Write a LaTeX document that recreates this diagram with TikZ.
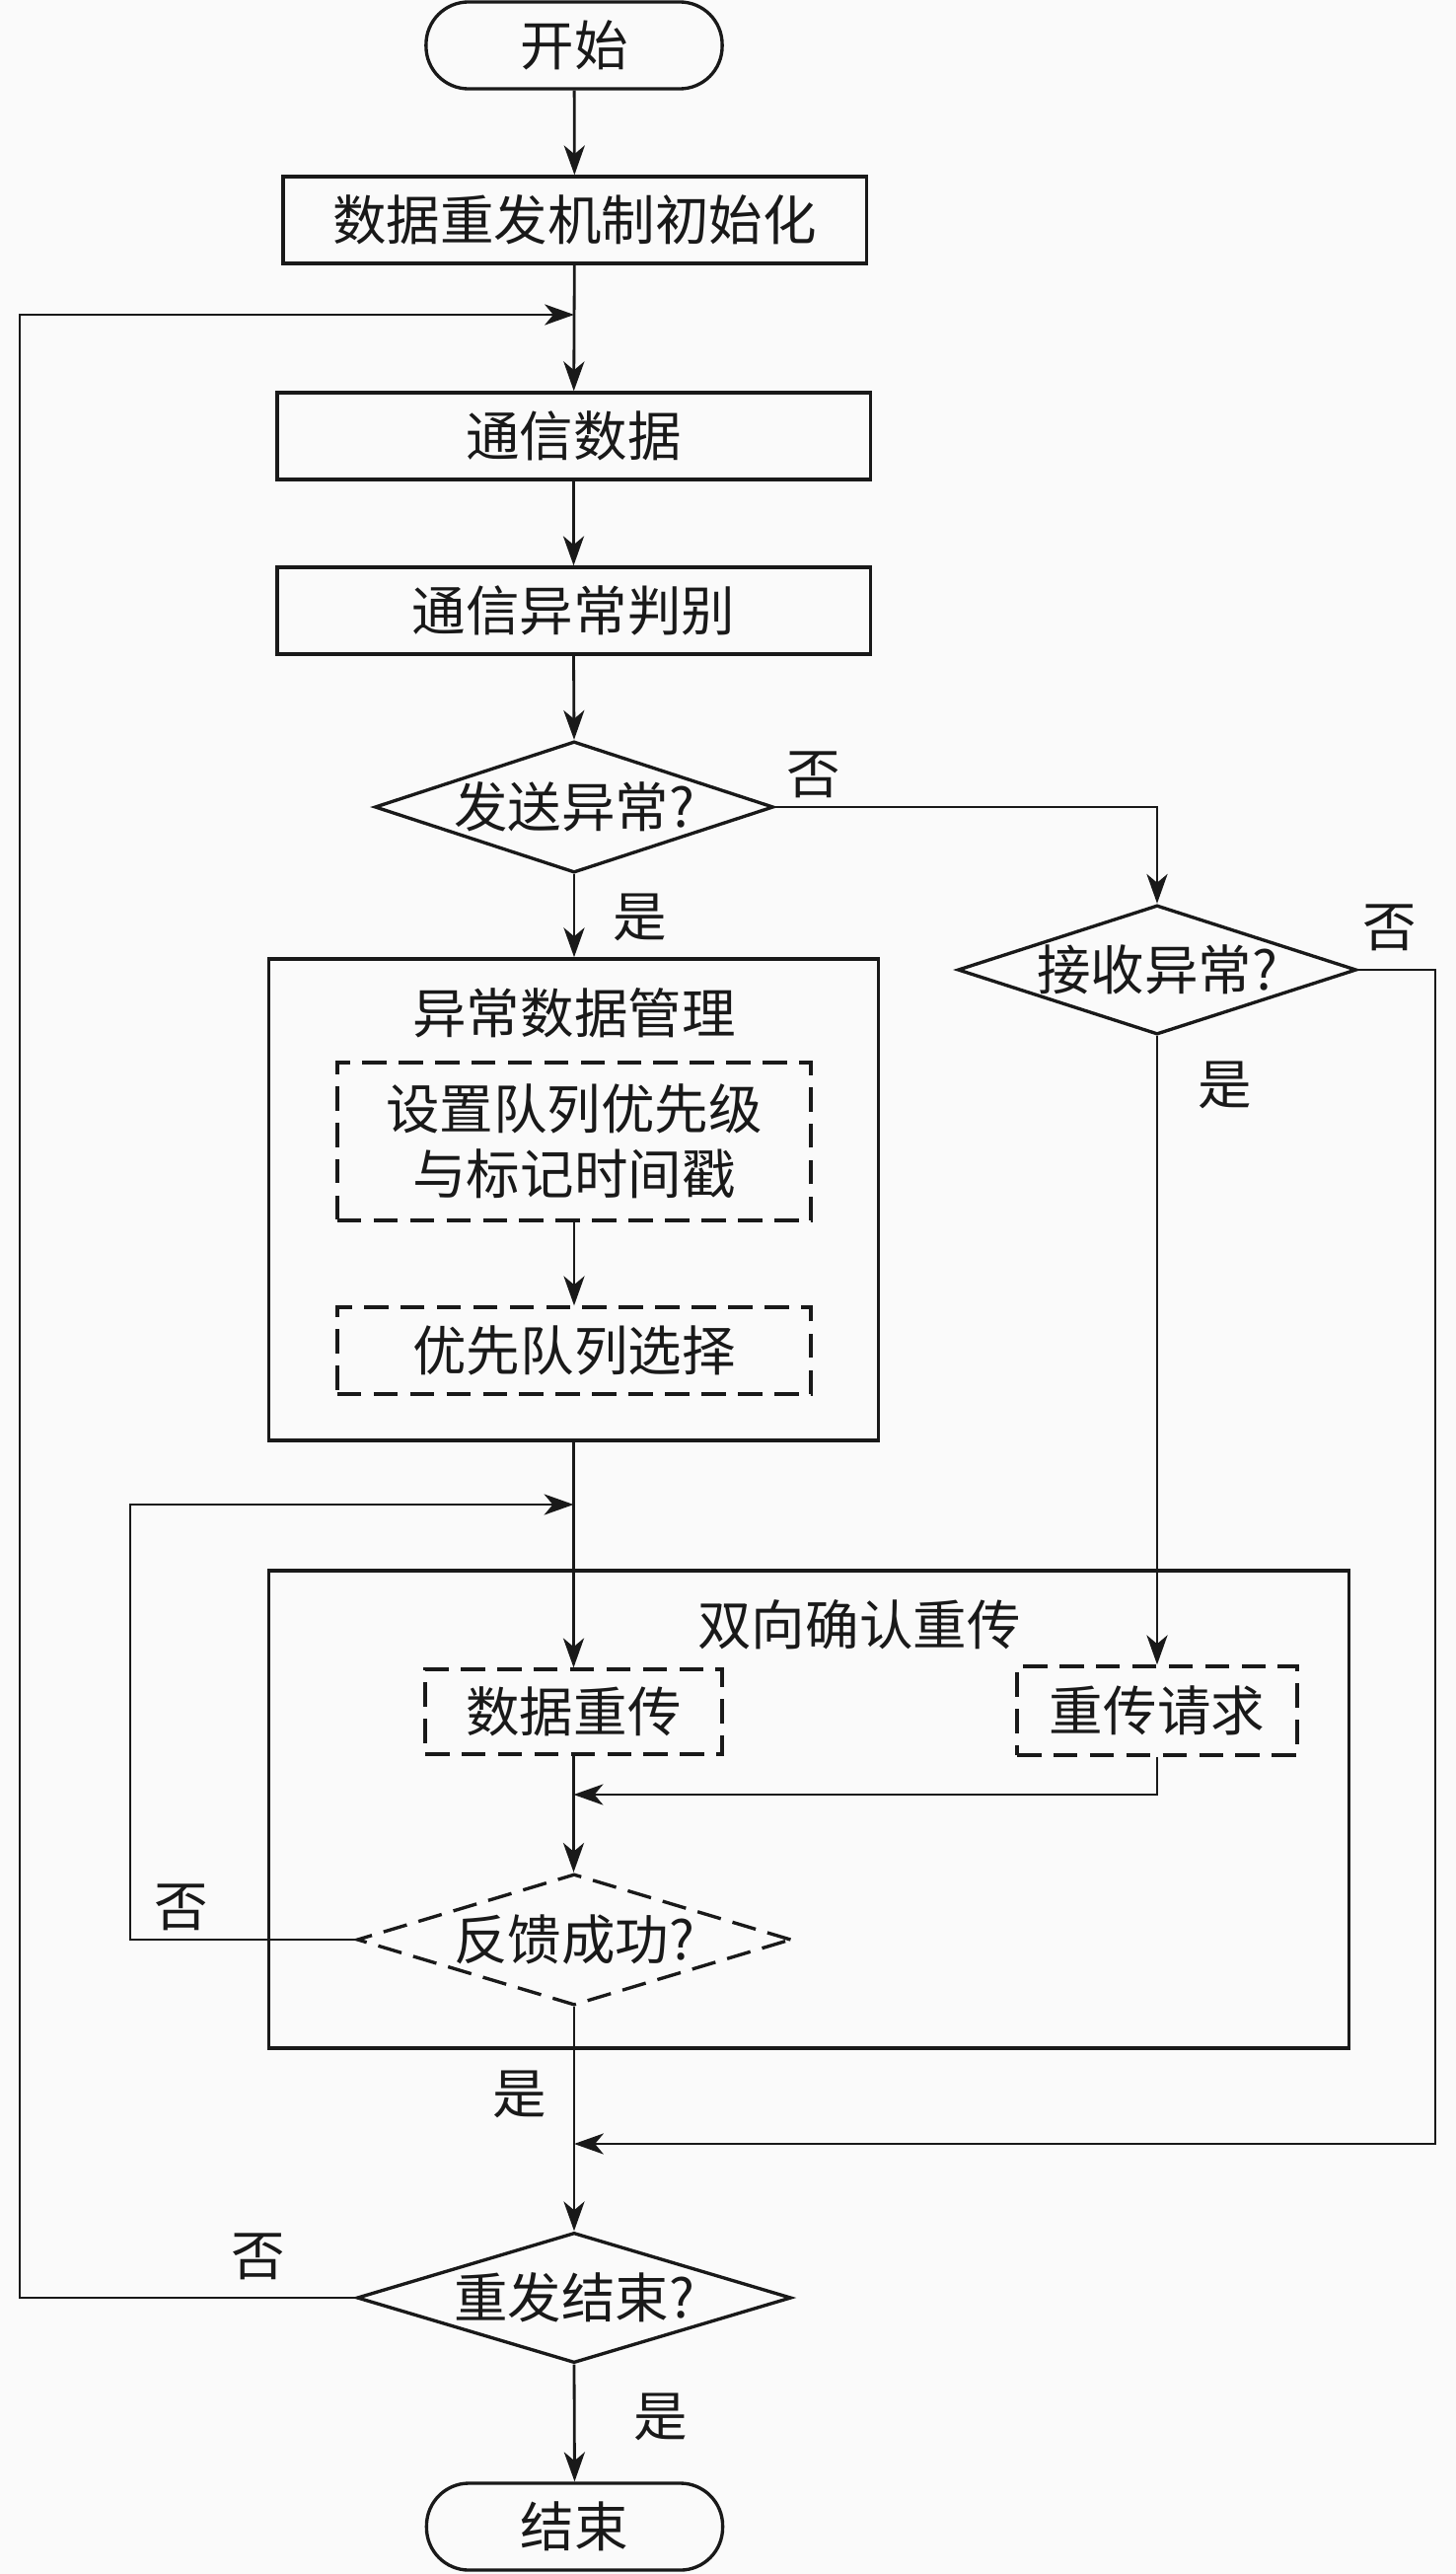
\documentclass[tikz,border=0pt]{standalone}
\usepackage{fontspec}
\setmainfont{Noto Sans CJK SC}
\usetikzlibrary{shapes.geometric,arrows.meta}
\definecolor{bgc}{RGB}{250,250,250}
\definecolor{ink}{RGB}{25,25,25}
\begin{document}
\begin{tikzpicture}[x=0.01cm,y=-0.01cm,
  font=\fontsize{15.5pt}{18.8pt}\selectfont,
  every node/.style={text=ink},
  box/.style={draw=ink,line width=0.95pt,inner sep=0pt,minimum width=#1,minimum height=0.88cm},
  dbox/.style={draw=ink,line width=0.95pt,dash pattern=on 7pt off 3.5pt,inner sep=0pt},
  term/.style={draw=ink,line width=0.95pt,rounded corners=0.43cm,inner sep=0pt,minimum width=3.0cm,minimum height=0.88cm},
  dia/.style={draw=ink,diamond,inner sep=0pt,line width=0.95pt},
  arr/.style={draw=ink,line width=0.8pt,-{Stealth[length=8.5pt,width=6pt,inset=2.5pt]}},
  lab/.style={inner sep=0pt}
]
\fill[bgc] (0,0) rectangle (1476,2609);
\useasboundingbox (0,0) rectangle (1476,2609);

% main column
\node[term] (start) at (582,46) {开始};
\node[box=5.91cm] (init) at (582.5,223) {数据重发机制初始化};
\node[box=6.01cm] (comm) at (581.5,442) {通信数据};
\node[box=6.01cm] (judge) at (581.5,619) {通信异常判别};
\node[dia,minimum width=4.04cm,minimum height=1.33cm] (d1) at (582,818) {};
\node (d1t) at (d1) {发送异常?};
\node[dia,minimum width=4.04cm,minimum height=1.31cm] (d2) at (1173,983) {};
\node (d2t) at (d2) {接收异常?};

% abnormal data management
\node[draw=ink,line width=0.95pt,minimum width=6.17cm,minimum height=4.88cm] (mgmt) at (581.5,1216) {};
\node (mgmtT) at (582,1027) {异常数据管理};
\node[dbox,minimum width=4.8cm,minimum height=1.6cm,align=center] (sub1) at (582,1157) {设置队列优先级\\与标记时间戳};
\node[dbox,minimum width=4.8cm,minimum height=0.88cm] (sub2) at (582,1369) {优先队列选择};

% bidirectional confirmation
\node[draw=ink,line width=0.95pt,minimum width=10.94cm,minimum height=4.84cm] (ack) at (820,1834) {};
\node (ackT) at (871,1647) {双向确认重传};
\node[dbox,minimum width=3.01cm,minimum height=0.86cm] (retx) at (581.5,1735) {数据重传};
\node[dbox,minimum width=2.84cm,minimum height=0.90cm] (req) at (1173,1734) {重传请求};
\node[dia,dash pattern=on 7pt off 3.5pt,minimum width=4.40cm,minimum height=1.33cm] (d3) at (582,1966) {};
\node (d3t) at (d3) {反馈成功?};

\node[dia,minimum width=4.40cm,minimum height=1.32cm] (d4) at (582,2329) {};
\node (d4t) at (d4) {重发结束?};
\node[term] (end) at (582.5,2561) {结束};

% coordinates
\coordinate (j1) at (582,319);
\coordinate (ll) at (20,319);
\coordinate (lp3) at (132,1525);
\coordinate (j3) at (581.5,1525);
\coordinate (m1) at (581.5,1819);
\coordinate (m2) at (582,2173);
\coordinate (rr) at (1455,2173);

% connectors
\draw[arr] (start) -- (init);
\draw[arr] (init) -- (comm);
\draw[arr] (comm) -- (judge);
\draw[arr] (judge.south) -- (d1.north);
\draw[arr] (d1.south) -- (d1.south |- mgmt.north);
\draw[arr] (d1.east) -| (d2.north);
\draw[arr] (sub1) -- (sub2);
\draw[arr] (mgmt.south) -- (retx.north);
\draw[arr] (d3.west) -| (lp3) -- (j3);
\draw[arr] (d2.south) -- (req.north);
\draw[arr] (retx.south) -- (retx.south |- d3.north);
\draw[arr] (req.south) |- (m1);
\draw[arr] (d3.south) -- (d4.north);
\draw[arr] (d2.east) -| (rr) -- (m2);
\draw[arr] (d4.south) -- (end.north);
\draw[arr] (d4.west) -| (ll) -- (j1);

% labels
\node[lab] (n1) at (825,785) {否};
\node[lab] (y1) at (649,930) {是};
\node[lab] (n2) at (1409,940) {否};
\node[lab] (y2) at (1242,1100) {是};
\node[lab] (n3) at (184,1933) {否};
\node[lab] (y3) at (527,2123) {是};
\node[lab] (n4) at (262,2287) {否};
\node[lab] (y4) at (670,2450) {是};
\end{tikzpicture}
\end{document}
